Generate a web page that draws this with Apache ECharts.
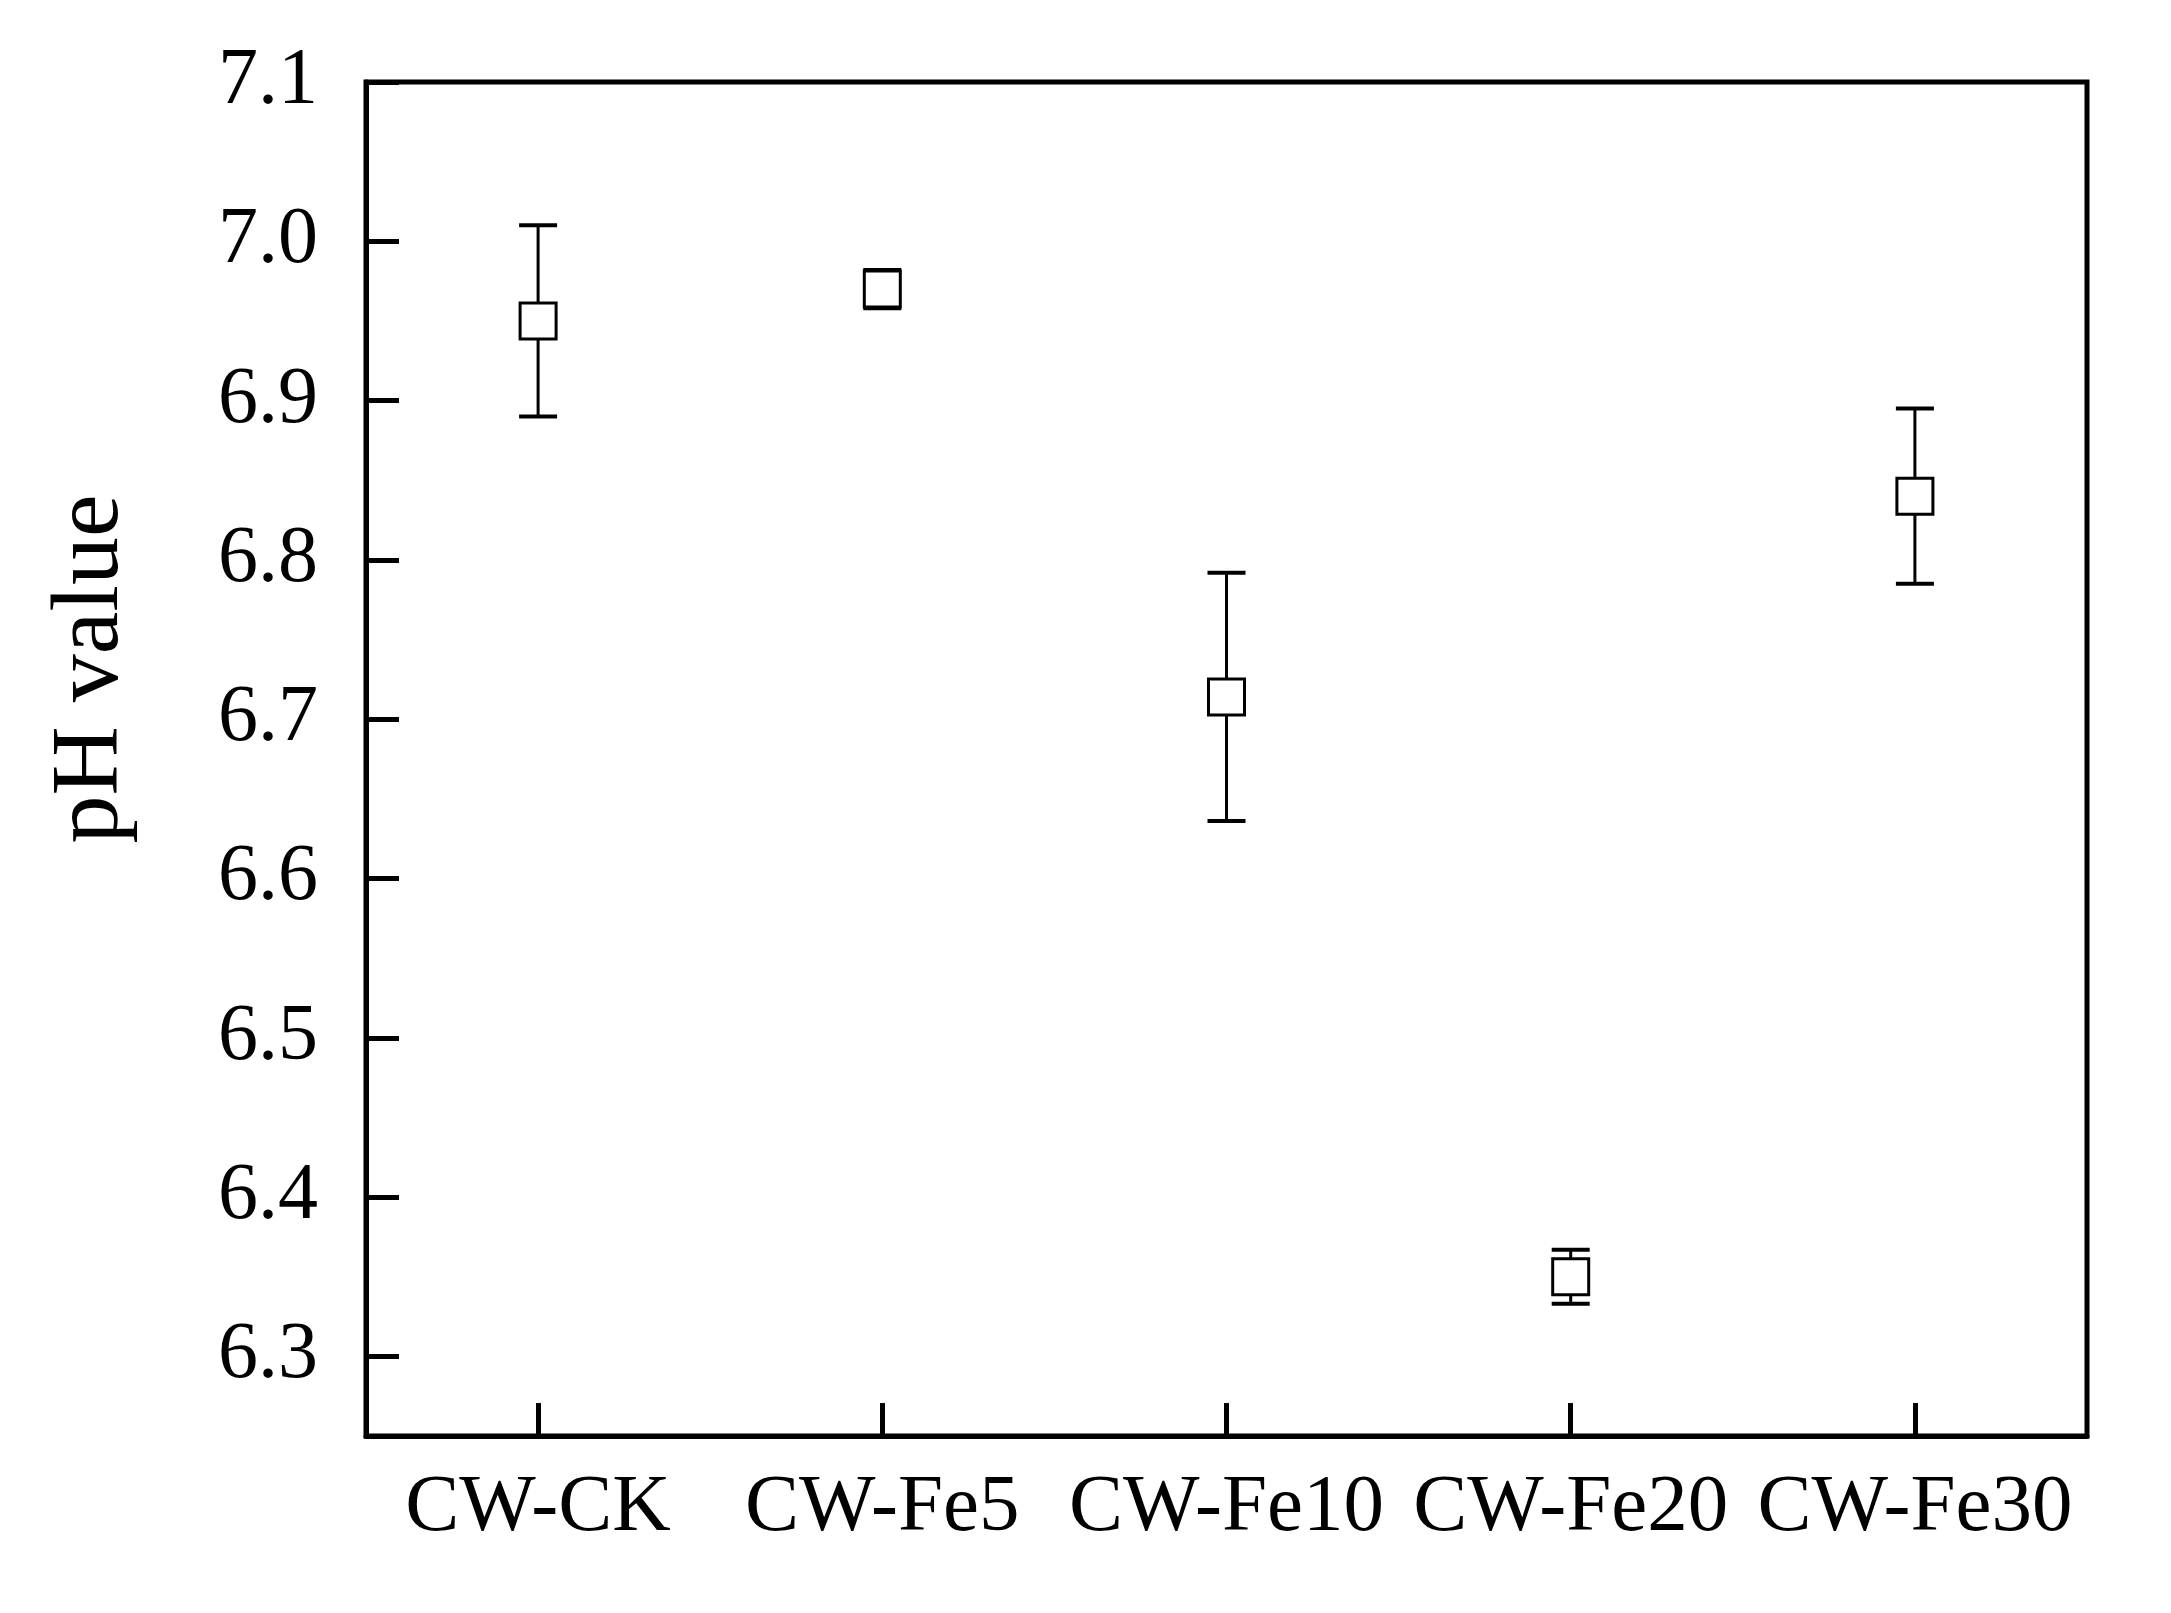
<!DOCTYPE html>
<html>
<head>
<meta charset="utf-8">
<script src="https://cdn.jsdelivr.net/npm/echarts@6/dist/echarts.min.js"></script>
<style>
html,body{margin:0;padding:0;background:#fff;}
#chart{width:2171px;height:1613px;}
</style>
</head>
<body>
<div id="chart"></div>
<script>
var categories = ['CW-CK', 'CW-Fe5', 'CW-Fe10', 'CW-Fe20', 'CW-Fe30'];
var phMean = [6.95, 6.97, 6.714, 6.35, 6.84];
var phErr = [0.06, 0.012, 0.078, 0.017, 0.055];
var yTicks = [6.3, 6.4, 6.5, 6.6, 6.7, 6.8, 6.9, 7.0, 7.1];

var FONT = "'Liberation Serif', 'Times New Roman', serif";
var errData = categories.map(function (c, i) {
  return [i, phMean[i] - phErr[i], phMean[i] + phErr[i]];
});
var ptData = categories.map(function (c, i) { return [i, phMean[i]]; });

var chart = echarts.init(document.getElementById('chart'));
chart.setOption({
  animation: false,
  backgroundColor: '#fff',
  grid: {left: 366, right: 84, top: 82, bottom: 177, show: true, borderColor: '#000', borderWidth: 5, backgroundColor: 'transparent'},
  xAxis: {
    type: 'category',
    data: categories,
    boundaryGap: true,
    axisLine: {show: true, lineStyle: {color: '#000', width: 5}},
    axisTick: {show: true, inside: true, length: 33, alignWithLabel: true, interval: 0, lineStyle: {color: '#000', width: 5}},
    axisLabel: {color: '#000', fontSize: 81, fontFamily: FONT, margin: 32, interval: 0, hideOverlap: false},
    splitLine: {show: false}
  },
  yAxis: {
    type: 'value',
    min: 6.25,
    max: 7.1,
    axisLine: {show: true, lineStyle: {color: '#000', width: 5}},
    axisTick: {show: true, inside: true, length: 33, customValues: yTicks, lineStyle: {color: '#000', width: 5}},
    axisLabel: {color: '#000', fontSize: 80, fontFamily: FONT, margin: 48, customValues: yTicks,
      formatter: function (v) { return Number(v).toFixed(1); }},
    splitLine: {show: false}
  },
  graphic: [{
    type: 'text',
    x: 92, y: 669,
    rotation: Math.PI / 2,
    style: {text: 'pH value', fontSize: 96, fontFamily: FONT, fill: '#000', align: 'center', verticalAlign: 'middle'}
  }],
  series: [
    {
      type: 'custom',
      z: 2,
      data: errData,
      renderItem: function (params, api) {
        var x = api.value(0);
        var lo = api.coord([x, api.value(1)]);
        var hi = api.coord([x, api.value(2)]);
        var hw = 19;
        var st = {stroke: '#000', lineWidth: 3};
        return {
          type: 'group',
          children: [
            {type: 'line', shape: {x1: lo[0], y1: lo[1], x2: hi[0], y2: hi[1]}, style: st},
            {type: 'line', shape: {x1: hi[0] - hw, y1: hi[1], x2: hi[0] + hw, y2: hi[1]}, style: {stroke: '#000', lineWidth: 4}},
            {type: 'line', shape: {x1: lo[0] - hw, y1: lo[1], x2: lo[0] + hw, y2: lo[1]}, style: {stroke: '#000', lineWidth: 4}}
          ]
        };
      }
    },
    {
      type: 'scatter',
      z: 3,
      data: ptData,
      symbol: 'rect',
      symbolSize: 36,
      itemStyle: {color: '#fff', borderColor: '#000', borderWidth: 3, opacity: 1}
    }
  ]
});
</script>
</body>
</html>
